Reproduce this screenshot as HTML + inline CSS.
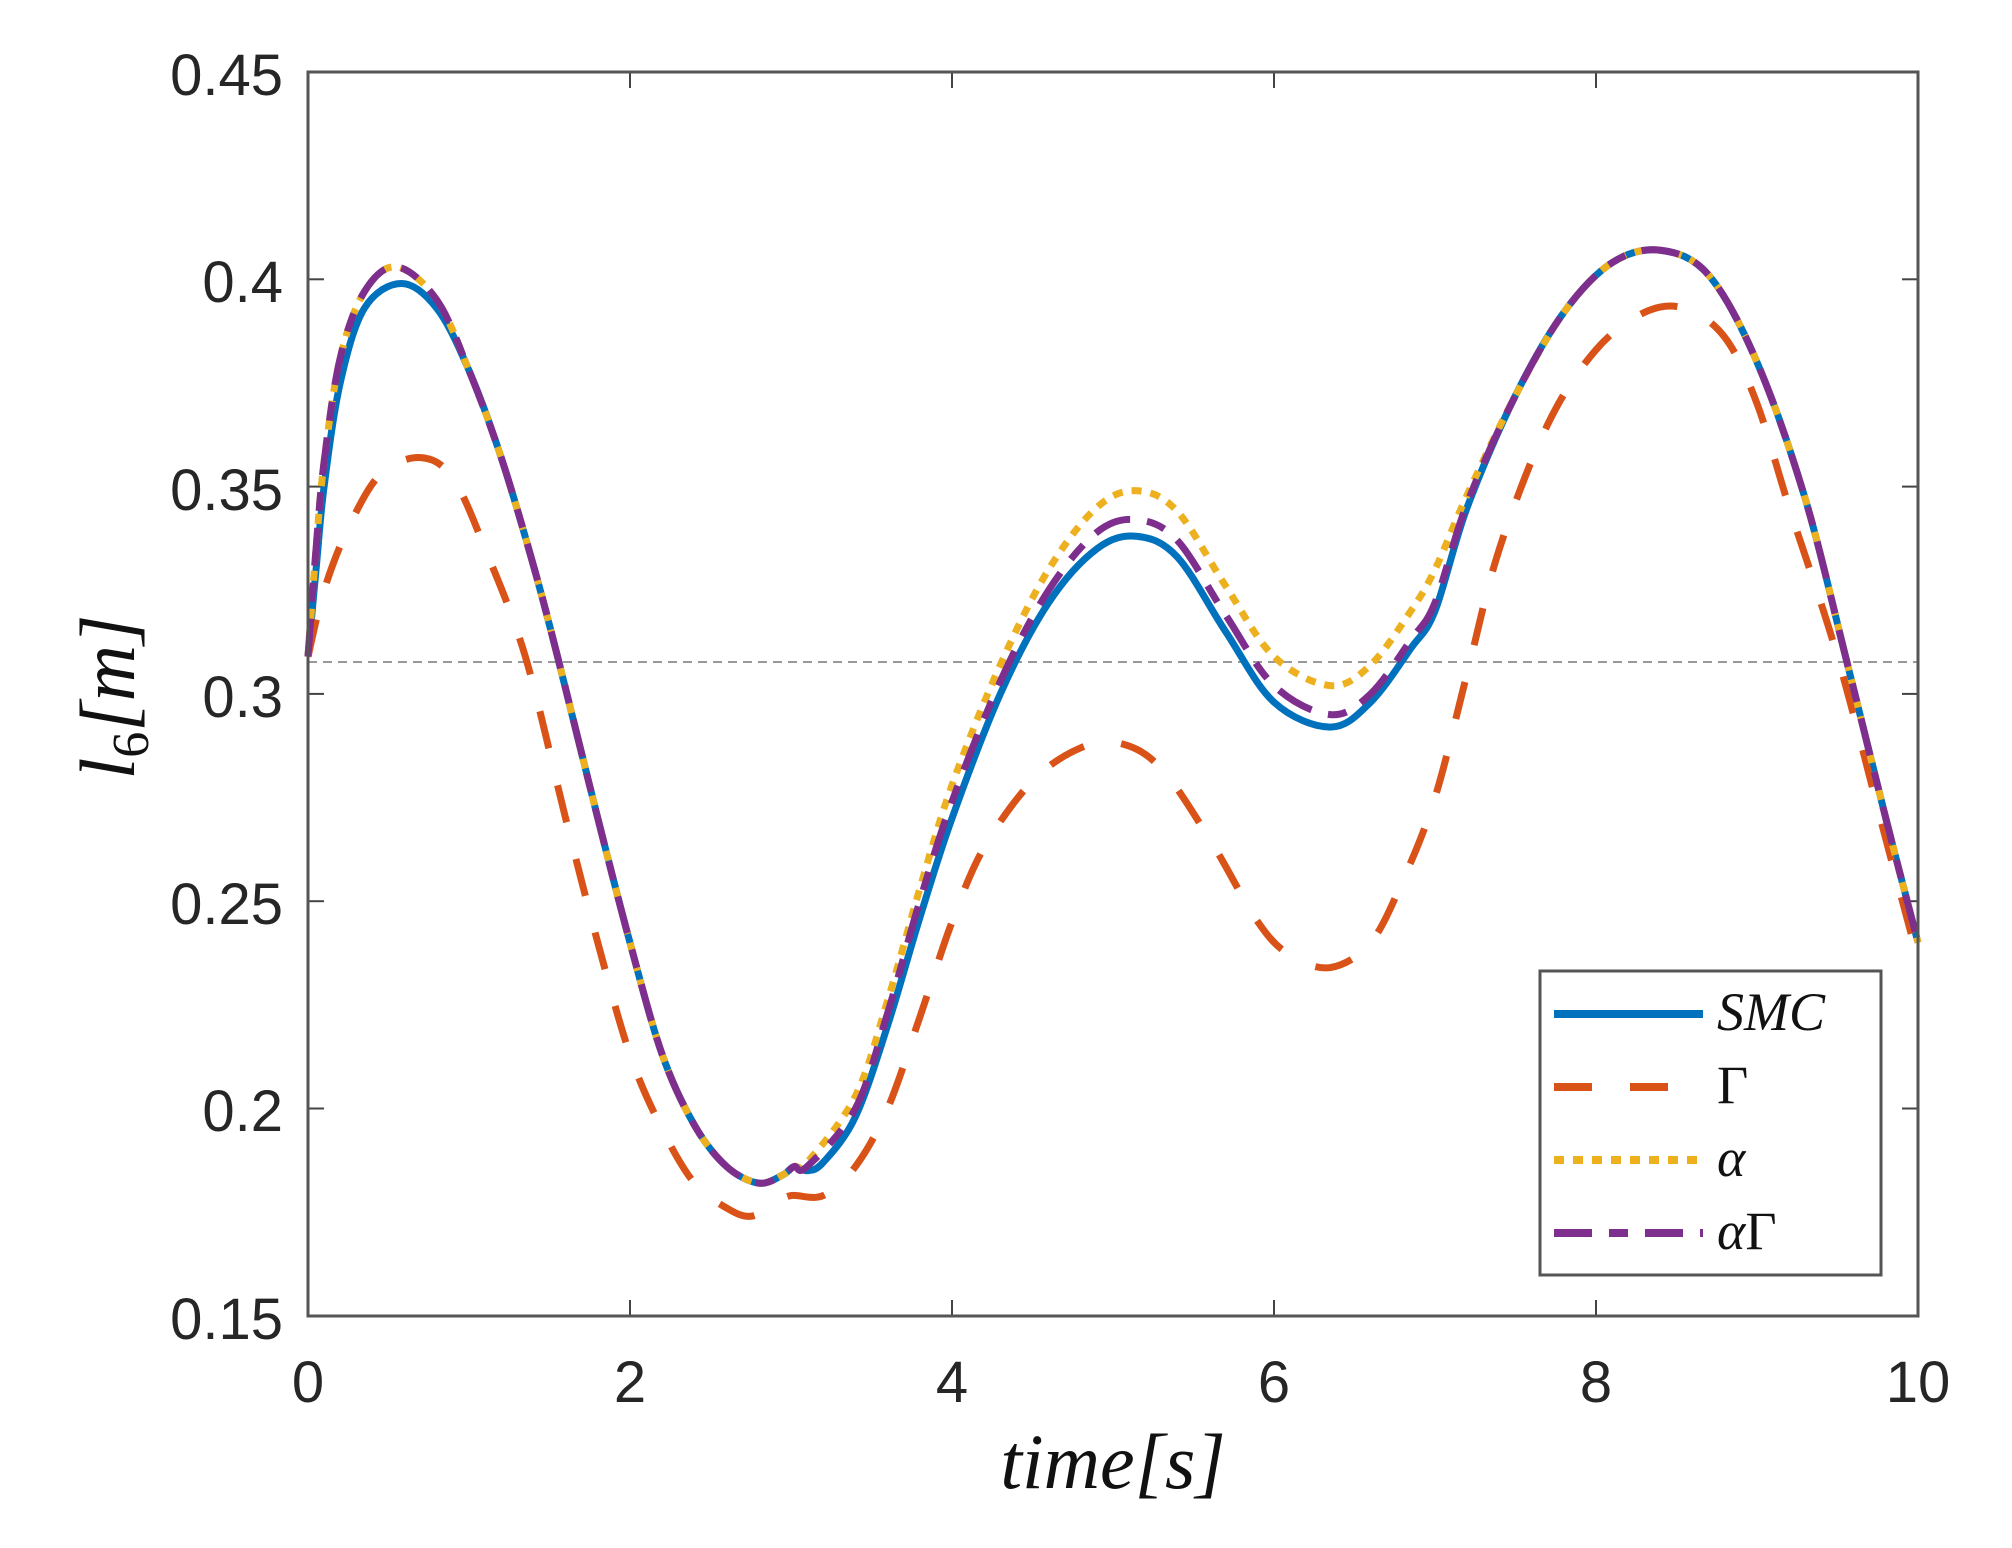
<!DOCTYPE html>
<html><head><meta charset="utf-8"><style>
html,body{margin:0;padding:0;background:#fff;}
svg{display:block;}
.tk{font-family:"Liberation Sans",Arial,sans-serif;font-size:58px;fill:#262626;}
.it{font-family:"Liberation Serif","DejaVu Serif",serif;font-style:italic;fill:#111;}
</style></head><body>
<svg id="s" width="2012" height="1548" viewBox="0 0 2012 1548" xmlns="http://www.w3.org/2000/svg">
<rect width="2012" height="1548" fill="#fff"/>
<g id="ticks" stroke="#444" stroke-width="2"></g>
<line x1="308" y1="662" x2="1918" y2="662" stroke="#999" stroke-width="2" stroke-dasharray="9,6"/>
<g id="curves" fill="none" stroke-width="7" stroke-linejoin="round"></g>
<rect x="308" y="72" width="1610" height="1244" fill="none" stroke="#555" stroke-width="3"/>
<g class="tk" text-anchor="end">
<text x="283" y="95">0.45</text><text x="283" y="302">0.4</text><text x="283" y="510">0.35</text>
<text x="283" y="717">0.3</text><text x="283" y="924">0.25</text><text x="283" y="1131">0.2</text><text x="283" y="1339">0.15</text>
</g>
<g class="tk" text-anchor="middle">
<text x="308" y="1402">0</text><text x="630" y="1402">2</text><text x="952" y="1402">4</text>
<text x="1274" y="1402">6</text><text x="1596" y="1402">8</text><text x="1918" y="1402">10</text>
</g>
<text class="it" x="1113" y="1488" font-size="78" text-anchor="middle">time[s]</text>
<text class="it" transform="translate(134,697) rotate(-90)" font-size="78" text-anchor="middle">l<tspan font-size="52" dy="14" font-style="normal">6</tspan><tspan dy="-14">[m]</tspan></text>
<rect x="1540" y="971" width="341" height="304" fill="#fff" stroke="#555" stroke-width="3"/>
<line x1="1554" y1="1014" x2="1703" y2="1014" stroke="#0072BD" stroke-width="8"/>
<line x1="1554" y1="1087" x2="1703" y2="1087" stroke="#D95319" stroke-width="8" stroke-dasharray="38,38"/>
<line x1="1554" y1="1160" x2="1703" y2="1160" stroke="#EDB120" stroke-width="8" stroke-dasharray="10,9"/>
<line x1="1554" y1="1233" x2="1703" y2="1233" stroke="#7E2F8E" stroke-width="8" stroke-dasharray="38,17,19,17"/>
<g class="it" font-size="54">
<text x="1717" y="1030">SMC</text>
<text x="1717" y="1103" font-style="normal">Γ</text>
<text x="1717" y="1176">α</text>
<text x="1717" y="1249">α<tspan font-style="normal">Γ</tspan></text>
</g>
</svg>
<script>
var NS="http://www.w3.org/2000/svg";
function X(t){return 308+161*t;}function Y(v){return 72+(0.45-v)*4146;}
var tg=document.getElementById('ticks');
function ln(x1,y1,x2,y2){var l=document.createElementNS(NS,'line');l.setAttribute('x1',x1);l.setAttribute('y1',y1);l.setAttribute('x2',x2);l.setAttribute('y2',y2);tg.appendChild(l);}
for(var i=1;i<5;i++){var x=X(2*i);ln(x,1316,x,1300);ln(x,72,x,88);}
for(var j=1;j<6;j++){var y=Y(0.15+0.05*j);ln(308,y,324,y);ln(1918,y,1902,y);}
var smc=[[0,0.309],[0.05,0.33],[0.1,0.35],[0.2,0.375],[0.35,0.393],[0.58,0.399],[0.8,0.393],[1.0,0.378],[1.2,0.357],[1.4,0.331],[1.55,0.309],[1.8,0.27],[2.0,0.24],[2.2,0.213],[2.4,0.196],[2.6,0.186],[2.8,0.182],[2.95,0.184],[3.02,0.186],[3.1,0.185],[3.2,0.187],[3.4,0.198],[3.6,0.22],[3.8,0.246],[4.0,0.27],[4.3,0.3],[4.6,0.322],[4.9,0.335],[5.15,0.338],[5.4,0.333],[5.7,0.315],[6.0,0.298],[6.35,0.292],[6.6,0.298],[6.85,0.311],[7.0,0.32],[7.2,0.345],[7.5,0.372],[7.8,0.392],[8.1,0.404],[8.4,0.407],[8.7,0.401],[9.0,0.38],[9.3,0.347],[9.55,0.309],[9.8,0.27],[10,0.24]];
function splice(base,early,mid){var a=early.slice();base.forEach(function(p){var t=p[0];if(t>early[early.length-1][0]&&(t<mid[0][0]||t>mid[mid.length-1][0]))a.push(p);});a=a.concat(mid);a.sort(function(p,q){return p[0]-q[0];});return a;}
var alE=[[0,0.309],[0.05,0.335],[0.1,0.356],[0.2,0.381],[0.35,0.397],[0.55,0.403],[0.8,0.395]];
var al=splice(smc,alE,[[3.1,0.187],[3.4,0.203],[3.6,0.226],[3.8,0.253],[4.0,0.278],[4.3,0.307],[4.6,0.33],[4.9,0.345],[5.15,0.349],[5.4,0.344],[5.7,0.326],[6.0,0.309],[6.35,0.302],[6.6,0.307],[6.85,0.32],[7.0,0.33],[7.2,0.348]]);
var ag=splice(smc,alE,[[3.1,0.186],[3.4,0.2],[3.6,0.223],[3.8,0.25],[4.0,0.274],[4.3,0.303],[4.6,0.325],[4.9,0.339],[5.15,0.342],[5.4,0.337],[5.7,0.319],[6.0,0.302],[6.35,0.295],[6.6,0.3],[6.85,0.313],[7.0,0.322],[7.2,0.346]]);
var gm=[[0,0.309],[0.1,0.325],[0.25,0.340],[0.45,0.353],[0.7,0.357],[0.9,0.352],[1.1,0.335],[1.35,0.309],[1.6,0.27],[1.8,0.24],[2.0,0.213],[2.2,0.195],[2.4,0.182],[2.6,0.176],[2.75,0.174],[2.9,0.177],[3.0,0.179],[3.2,0.179],[3.4,0.186],[3.6,0.2],[3.8,0.222],[4.0,0.245],[4.2,0.263],[4.5,0.279],[4.8,0.287],[5.05,0.288],[5.3,0.282],[5.6,0.265],[5.9,0.245],[6.1,0.237],[6.35,0.234],[6.6,0.24],[6.8,0.255],[7.0,0.275],[7.2,0.305],[7.4,0.335],[7.7,0.365],[8.0,0.383],[8.3,0.392],[8.55,0.393],[8.8,0.386],[9.0,0.37],[9.2,0.345],[9.5,0.309],[9.8,0.265],[10,0.236]];
function path(d){var p=d.map(function(q){return [X(q[0]),Y(q[1])];});var s='M'+p[0][0]+','+p[0][1];
for(var i=0;i<p.length-1;i++){var p0=p[i>0?i-1:i],p1=p[i],p2=p[i+1],p3=p[i+2<p.length?i+2:i+1];
s+=' C'+(p1[0]+(p2[0]-p0[0])/6)+','+(p1[1]+(p2[1]-p0[1])/6)+' '+(p2[0]-(p3[0]-p1[0])/6)+','+(p2[1]-(p3[1]-p1[1])/6)+' '+p2[0]+','+p2[1];}return s;}
var cg=document.getElementById('curves');
[[smc,'#0072BD',''],[gm,'#D95319','38,38'],[al,'#EDB120','10,9'],[ag,'#7E2F8E','38,17,19,17']].forEach(function(c){
var e=document.createElementNS(NS,'path');e.setAttribute('d',path(c[0]));e.setAttribute('stroke',c[1]);if(c[2])e.setAttribute('stroke-dasharray',c[2]);cg.appendChild(e);});
</script>
</body></html>
